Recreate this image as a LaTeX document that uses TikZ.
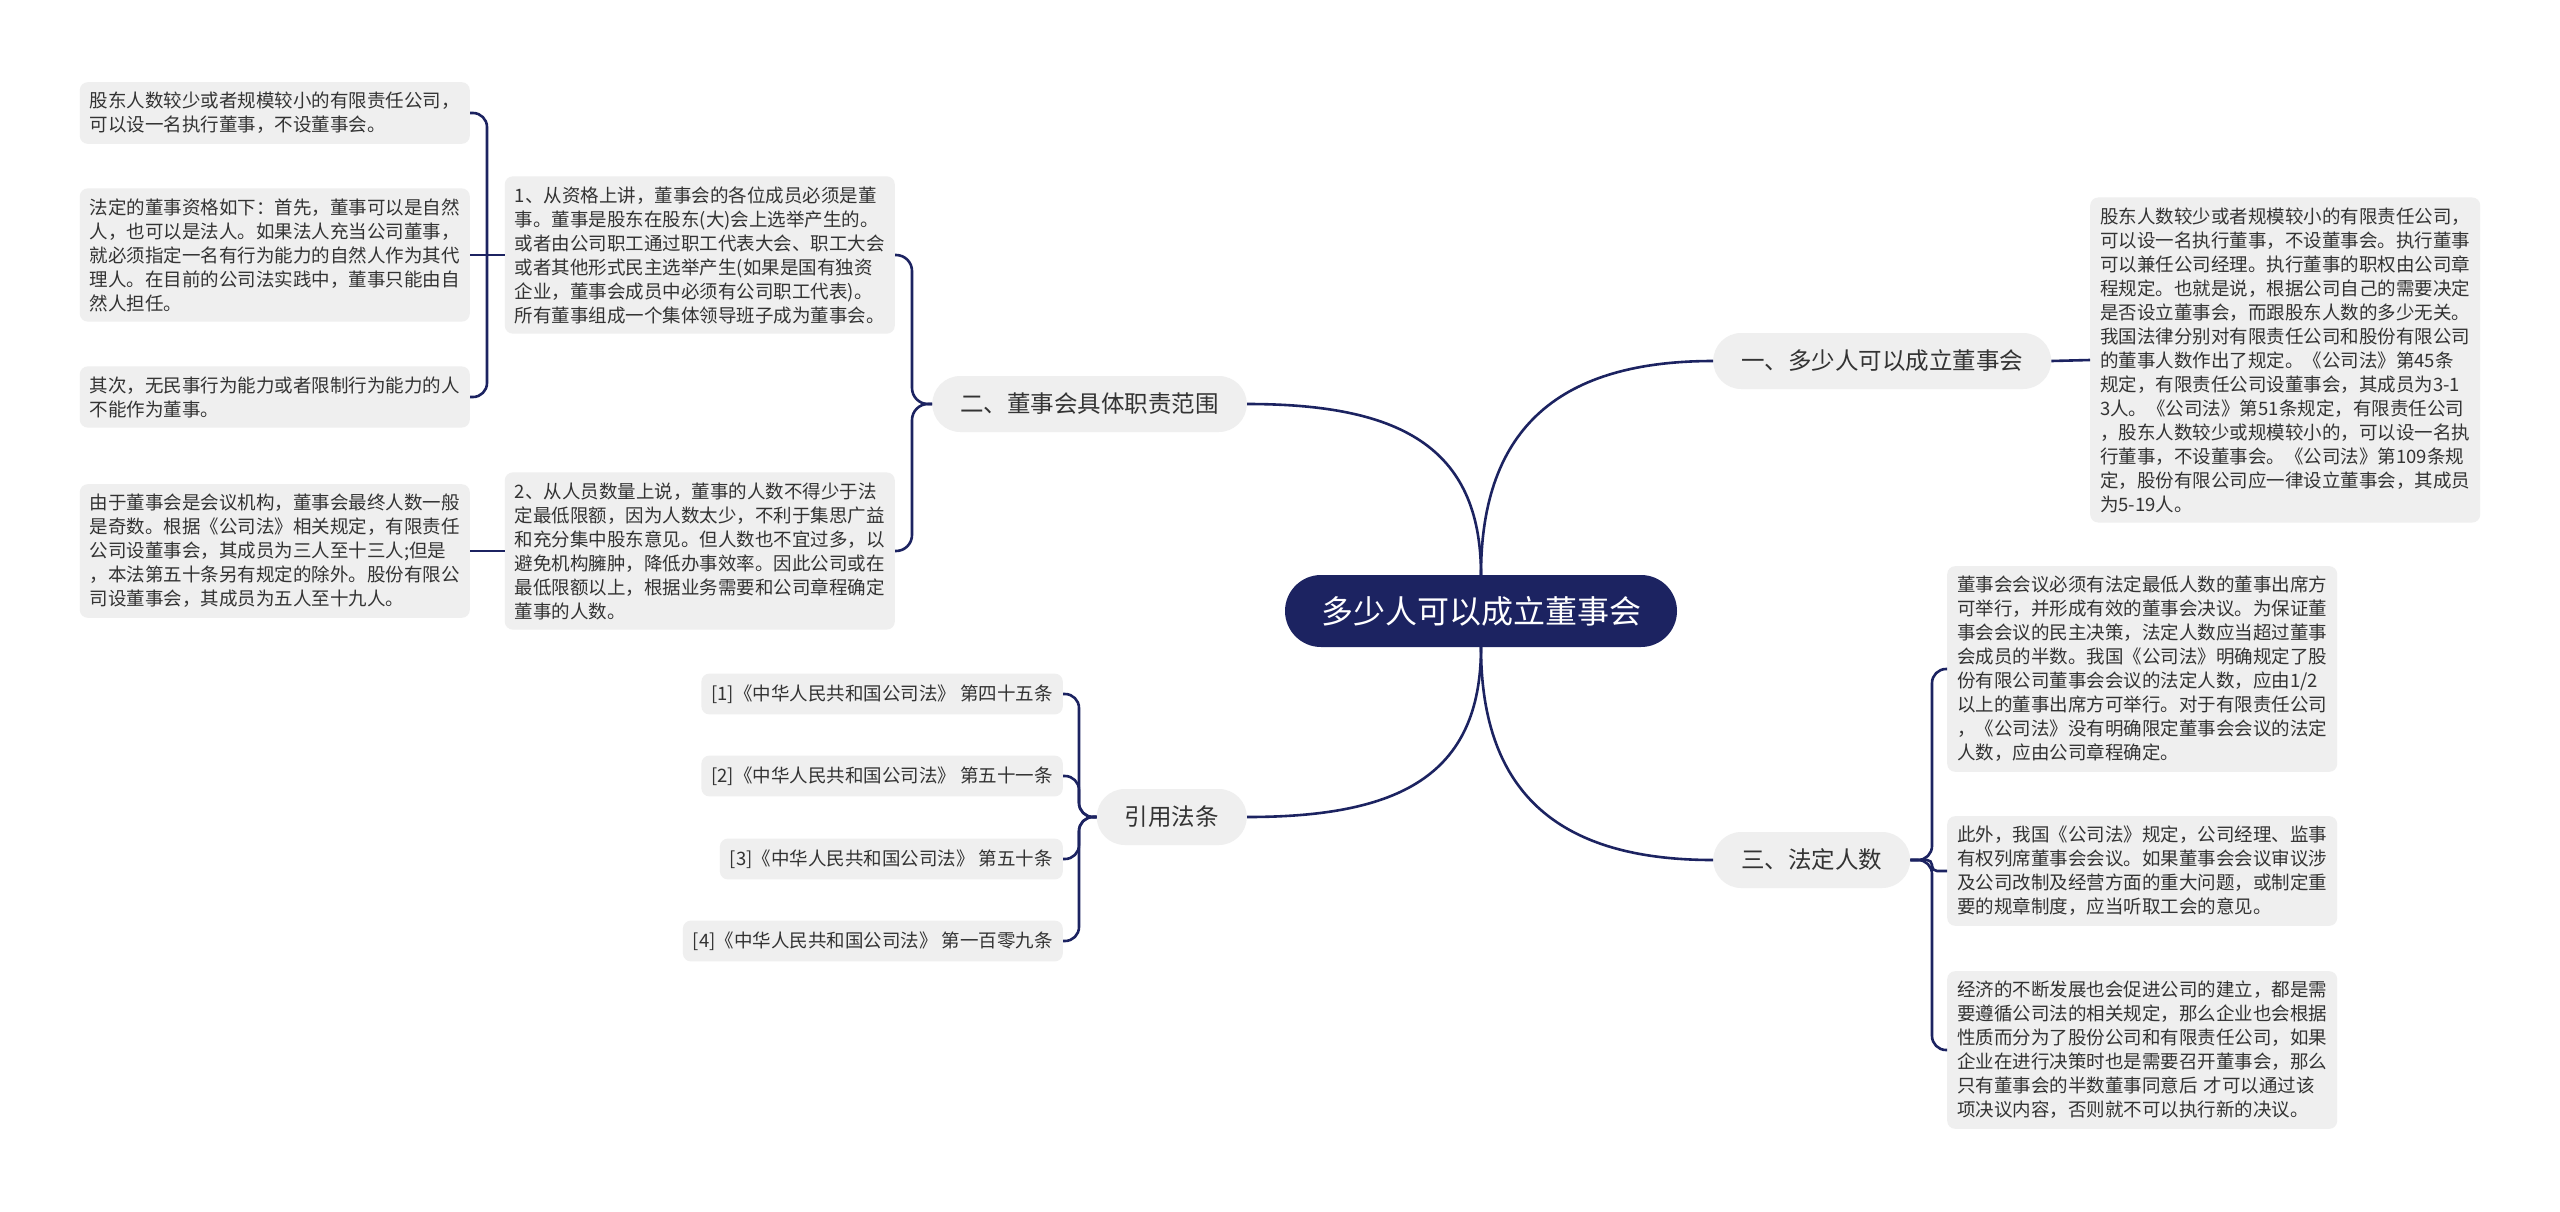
\documentclass[tikz,border=0pt]{standalone}
\usepackage{fontspec}
\setmainfont{Noto Sans CJK SC}
\usetikzlibrary{positioning}
\definecolor{navyline}{HTML}{1C2361}
\definecolor{boxgray}{HTML}{EFEFEF}
\definecolor{textgray}{HTML}{333333}

\begin{document}
\begin{tikzpicture}[
    x=1pt, y=-1pt,
    % Define node styles
    rootnode/.style={fill=navyline, text=white, rounded corners=36pt, minimum height=72pt,
        minimum width=392pt, font=\fontsize{32}{38}\selectfont},
    topicnode/.style={fill=boxgray, text=textgray, rounded corners=28pt, minimum height=56pt,
        inner xsep=28pt, font=\fontsize{23.5}{28}\selectfont},
    leafbox/.style={fill=boxgray, text=textgray, rounded corners=8pt, text width=370pt, align=left,
        inner xsep=10pt, inner ysep=10pt, font=\fontsize{18.5}{24}\selectfont},
    refbox/.style={fill=boxgray, text=textgray, rounded corners=8pt, inner xsep=10pt,
        inner ysep=11pt, font=\fontsize{18.5}{24}\selectfont},
    link/.style={draw=navyline, line width=2.6pt}
]

% Canvas
\fill[white] (0,0) rectangle (2560,1211);
\useasboundingbox (0,0) rectangle (2560,1211);

% Root and main topics
\node[rootnode] (root) at (1481,611) {多少人可以成立董事会};
\node[topicnode, anchor=west] (one) at (1713,361) {一、多少人可以成立董事会};
\node[topicnode, anchor=east] (two) at (1247,404) {二、董事会具体职责范围};
\node[topicnode, anchor=west] (three) at (1713,860) {三、法定人数};
\node[topicnode, anchor=east] (refs) at (1247,817) {引用法条};

% Topic one
\node[leafbox, anchor=west] (r1) at (2090,360) {股东人数较少或者规模较小的有限责任公司，\\
可以设一名执行董事，不设董事会。执行董事\\
可以兼任公司经理。执行董事的职权由公司章\\
程规定。也就是说，根据公司自己的需要决定\\
是否设立董事会，而跟股东人数的多少无关。\\
我国法律分别对有限责任公司和股份有限公司\\
的董事人数作出了规定。《公司法》第45条\\
规定，有限责任公司设董事会，其成员为3-1\\
3人。《公司法》第51条规定，有限责任公司\\
，股东人数较少或规模较小的，可以设一名执\\
行董事，不设董事会。《公司法》第109条规\\
定，股份有限公司应一律设立董事会，其成员\\
为5-19人。};

% Topic two
\node[leafbox, anchor=east] (l1) at (895,255) {1、从资格上讲，董事会的各位成员必须是董\\
事。董事是股东在股东(大)会上选举产生的。\\
或者由公司职工通过职工代表大会、职工大会\\
或者其他形式民主选举产生(如果是国有独资\\
企业，董事会成员中必须有公司职工代表)。\\
所有董事组成一个集体领导班子成为董事会。};
\node[leafbox, anchor=east] (l2) at (895,551) {2、从人员数量上说，董事的人数不得少于法\\
定最低限额，因为人数太少，不利于集思广益\\
和充分集中股东意见。但人数也不宜过多，以\\
避免机构臃肿，降低办事效率。因此公司或在\\
最低限额以上，根据业务需要和公司章程确定\\
董事的人数。};
\node[leafbox, anchor=east] (ll1) at (470,113) {股东人数较少或者规模较小的有限责任公司，\\
可以设一名执行董事，不设董事会。};
\node[leafbox, anchor=east] (ll2) at (470,255) {法定的董事资格如下：首先，董事可以是自然\\
人，也可以是法人。如果法人充当公司董事，\\
就必须指定一名有行为能力的自然人作为其代\\
理人。在目前的公司法实践中，董事只能由自\\
然人担任。};
\node[leafbox, anchor=east] (ll3) at (470,397) {其次，无民事行为能力或者限制行为能力的人\\
不能作为董事。};
\node[leafbox, anchor=east] (ll4) at (470,551) {由于董事会是会议机构，董事会最终人数一般\\
是奇数。根据《公司法》相关规定，有限责任\\
公司设董事会，其成员为三人至十三人;但是\\
，本法第五十条另有规定的除外。股份有限公\\
司设董事会，其成员为五人至十九人。};

% Topic three
\node[leafbox, anchor=west] (r2) at (1947,669) {董事会会议必须有法定最低人数的董事出席方\\
可举行，并形成有效的董事会决议。为保证董\\
事会会议的民主决策，法定人数应当超过董事\\
会成员的半数。我国《公司法》明确规定了股\\
份有限公司董事会会议的法定人数，应由1/2\\
以上的董事出席方可举行。对于有限责任公司\\
，《公司法》没有明确限定董事会会议的法定\\
人数，应由公司章程确定。};
\node[leafbox, anchor=west] (r3) at (1947,871) {此外，我国《公司法》规定，公司经理、监事\\
有权列席董事会会议。如果董事会会议审议涉\\
及公司改制及经营方面的重大问题，或制定重\\
要的规章制度，应当听取工会的意见。};
\node[leafbox, anchor=west] (r4) at (1947,1050) {经济的不断发展也会促进公司的建立，都是需\\
要遵循公司法的相关规定，那么企业也会根据\\
性质而分为了股份公司和有限责任公司，如果\\
企业在进行决策时也是需要召开董事会，那么\\
只有董事会的半数董事同意后 才可以通过该\\
项决议内容，否则就不可以执行新的决议。};

% Cited articles
\node[refbox, anchor=east] (c1) at (1063,694) {[1]《中华人民共和国公司法》 第四十五条};
\node[refbox, anchor=east] (c2) at (1063,776) {[2]《中华人民共和国公司法》 第五十一条};
\node[refbox, anchor=east] (c3) at (1063,859) {[3]《中华人民共和国公司法》 第五十条};
\node[refbox, anchor=east] (c4) at (1063,941) {[4]《中华人民共和国公司法》 第一百零九条};

% Bracket junctions
\coordinate (jtwo) at (912,404);
\coordinate (jl1) at (487,255);
\coordinate (jthree) at (1932,860);
\coordinate (jrefs) at (1079,817);

% Root to topics
\draw[link] (root.north) .. controls +(0,-150) and +(-150,0) .. (one.west);
\draw[link] (root.north) .. controls +(0,-130) and +(150,0) .. (two.east);
\draw[link] (root.south) .. controls +(0,150) and +(-150,0) .. (three.west);
\draw[link] (root.south) .. controls +(0,130) and +(150,0) .. (refs.east);

% Topics to details
\draw[link] (one.east) -- (r1.west);
\draw[link, rounded corners=16pt] (two.west) -- (jtwo) |- (l1.east);
\draw[link, rounded corners=16pt] (two.west) -- (jtwo) |- (l2.east);
\draw[link] (l1.west) -- (ll2.east);
\draw[link, rounded corners=14pt] (jl1) |- (ll1.east);
\draw[link, rounded corners=14pt] (jl1) |- (ll3.east);
\draw[link] (l2.west) -- (ll4.east);
\draw[link, rounded corners=14pt] (three.east) -- (jthree) |- (r2.west);
\draw[link, rounded corners=5pt] (three.east) -- (jthree) |- (r3.west);
\draw[link, rounded corners=14pt] (three.east) -- (jthree) |- (r4.west);
\foreach \c in {c1,c2,c3,c4}
    \draw[link, rounded corners=14pt] (refs.west) -- (jrefs) |- (\c.east);

\end{tikzpicture}
\end{document}
